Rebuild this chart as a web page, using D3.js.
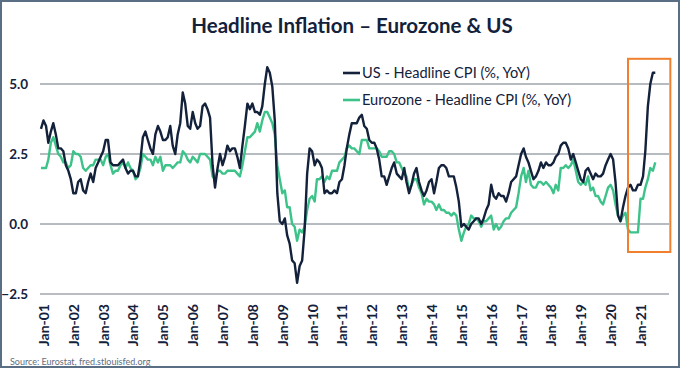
<!DOCTYPE html>
<html>
<head>
<meta charset="utf-8">
<script src="https://cdn.jsdelivr.net/npm/d3@7/dist/d3.min.js"></script>
<style>
  html, body { margin: 0; padding: 0; background: #fff; }
  svg { display: block; font-family: Lato, "Open Sans", sans-serif; }
</style>
</head>
<body>
<svg id="chart" width="680" height="368"></svg>
<script>
// monthly, Dec 2000 .. Jul 2021
const firstMonth = [2000, 11];

const usCpi = [
  3.4,
  3.7, 3.5, 2.9, 3.3, 3.6, 3.2, 2.7, 2.7, 2.6, 2.1, 1.9, 1.6,
  1.1, 1.1, 1.5, 1.6, 1.2, 1.1, 1.5, 1.8, 1.5, 2.0, 2.2, 2.4,
  2.6, 3.0, 3.0, 2.2, 2.1, 2.1, 2.1, 2.2, 2.3, 2.0, 1.8, 1.9,
  1.9, 1.7, 1.7, 2.3, 3.1, 3.3, 3.0, 2.7, 2.5, 3.2, 3.5, 3.3,
  3.0, 3.0, 3.1, 3.5, 2.8, 2.5, 3.2, 3.6, 4.7, 4.3, 3.5, 3.4,
  4.0, 3.6, 3.4, 3.5, 4.2, 4.3, 4.1, 3.8, 2.1, 1.3, 2.0, 2.5,
  2.1, 2.4, 2.8, 2.6, 2.7, 2.7, 2.4, 2.0, 2.8, 3.5, 4.3, 4.1,
  4.3, 4.0, 4.0, 3.9, 4.2, 5.0, 5.6, 5.4, 4.9, 3.7, 1.1, 0.1,
  0.0, 0.2, -0.4, -0.7, -1.3, -1.4, -2.1, -1.5, -1.3, -0.2, 1.8, 2.7,
  2.6, 2.1, 2.3, 2.2, 2.0, 1.1, 1.2, 1.1, 1.1, 1.2, 1.1, 1.5,
  1.6, 2.1, 2.7, 3.2, 3.6, 3.6, 3.6, 3.8, 3.9, 3.5, 3.4, 3.0,
  2.9, 2.9, 2.7, 2.3, 1.7, 1.7, 1.4, 1.7, 2.0, 2.2, 1.8, 1.7,
  1.6, 2.0, 1.5, 1.1, 1.4, 1.8, 2.0, 1.5, 1.2, 1.0, 1.2, 1.5,
  1.6, 1.1, 1.5, 2.0, 2.1, 2.1, 2.0, 1.7, 1.7, 1.7, 1.3, 0.8,
  -0.1, 0.0, -0.1, -0.2, 0.0, 0.1, 0.2, 0.2, 0.0, 0.2, 0.5, 0.7,
  1.4, 1.0, 0.9, 1.1, 1.0, 1.0, 0.8, 1.1, 1.5, 1.6, 1.7, 2.1,
  2.5, 2.7, 2.4, 2.2, 1.9, 1.6, 1.7, 1.9, 2.2, 2.0, 2.2, 2.1,
  2.1, 2.2, 2.4, 2.5, 2.8, 2.9, 2.9, 2.7, 2.3, 2.5, 2.2, 1.9,
  1.6, 1.5, 1.9, 2.0, 1.8, 1.6, 1.8, 1.7, 1.7, 1.8, 2.1, 2.3,
  2.5, 2.3, 1.5, 0.3, 0.1, 0.6, 1.0, 1.3, 1.4, 1.2, 1.2, 1.4,
  1.4, 1.7, 2.6, 4.2, 5.0, 5.4, 5.4
];

const ezCpi = [
  2.0,
  2.0, 2.0, 2.3, 2.9, 3.1, 2.8, 2.5, 2.4, 2.2, 2.2, 2.0, 2.1,
  2.6, 2.5, 2.5, 2.4, 2.0, 1.9, 2.0, 2.1, 2.1, 2.3, 2.3, 2.3,
  2.1, 2.4, 2.5, 2.1, 1.8, 1.9, 1.9, 2.1, 2.2, 2.0, 2.2, 2.0,
  1.9, 1.6, 1.7, 2.0, 2.5, 2.4, 2.3, 2.3, 2.1, 2.4, 2.2, 2.4,
  1.9, 2.1, 2.1, 2.1, 2.0, 2.1, 2.2, 2.2, 2.6, 2.5, 2.3, 2.2,
  2.4, 2.3, 2.2, 2.5, 2.5, 2.5, 2.4, 2.3, 1.7, 1.6, 1.9, 1.9,
  1.8, 1.8, 1.9, 1.9, 1.9, 1.9, 1.8, 1.7, 2.1, 2.6, 3.1, 3.1,
  3.2, 3.3, 3.6, 3.3, 3.7, 4.0, 4.0, 3.8, 3.6, 3.2, 2.1, 1.6,
  1.1, 1.2, 0.6, 0.6, 0.0, -0.1, -0.6, -0.2, -0.3, -0.1, 0.5, 0.9,
  1.0, 0.8, 1.6, 1.6, 1.7, 1.5, 1.7, 1.6, 1.9, 1.9, 1.9, 2.2,
  2.3, 2.4, 2.7, 2.8, 2.7, 2.7, 2.6, 2.5, 3.0, 3.0, 3.0, 2.7,
  2.7, 2.7, 2.7, 2.6, 2.4, 2.4, 2.4, 2.6, 2.6, 2.5, 2.2, 2.2,
  2.0, 1.8, 1.7, 1.2, 1.4, 1.6, 1.6, 1.3, 1.1, 0.7, 0.9, 0.8,
  0.8, 0.7, 0.5, 0.7, 0.5, 0.5, 0.4, 0.4, 0.3, 0.4, 0.3, -0.2,
  -0.6, -0.3, -0.1, 0.0, 0.3, 0.2, 0.2, 0.1, -0.1, 0.1, 0.1, 0.2,
  0.3, -0.2, 0.0, -0.2, -0.1, 0.1, 0.2, 0.2, 0.4, 0.5, 0.6, 1.1,
  1.7, 2.0, 1.5, 1.9, 1.4, 1.3, 1.3, 1.5, 1.5, 1.4, 1.5, 1.4,
  1.3, 1.1, 1.4, 1.2, 2.0, 2.0, 2.1, 2.0, 2.1, 2.3, 1.9, 1.5,
  1.4, 1.5, 1.4, 1.7, 1.2, 1.3, 1.0, 1.0, 0.8, 0.7, 1.0, 1.3,
  1.4, 1.2, 0.7, 0.3, 0.1, 0.3, 0.4, -0.2, -0.3, -0.3, -0.3, -0.3,
  0.9, 0.9, 1.3, 1.6, 2.0, 1.9, 2.2
];

const yTicks = [-2.5, 0, 2.5, 5];
const seriesNames = ['US - Headline CPI (%, YoY)', 'Eurozone - Headline CPI (%, YoY)'];
// highlighted window: start/end month, top/bottom value
const highlightDates = [[2020, 7], [2022, 0]];
const highlightValues = [5.9, -1.0];

const navy = '#13213b';
const green = '#3dc389';

const svg = d3.select('#chart');

// frame
svg.append('rect')
  .attr('x', 1).attr('y', 1)
  .attr('width', 678).attr('height', 366)
  .attr('fill', 'none')
  .attr('stroke', '#5b6f84')
  .attr('stroke-width', 2);

const x = d3.scaleTime()
  .domain([new Date(2001, 0, 1), new Date(2021, 0, 1)])
  .range([43.5, 640.5]);
const y = d3.scaleLinear()
  .domain([-2.5, 5])
  .range([294, 84]);

const dates = usCpi.map((d, i) => new Date(firstMonth[0], firstMonth[1] + i, 1));

// grid
svg.append('g')
  .selectAll('line')
  .data(yTicks)
  .join('line')
  .attr('x1', 40).attr('x2', 669)
  .attr('y1', d => y(d)).attr('y2', d => y(d))
  .attr('stroke', d => d === -2.5 ? '#b9bdc2' : '#6f7883')
  .attr('stroke-width', d => d === -2.5 ? 2 : 1);

// y axis labels
const yAxis = svg.append('g')
  .attr('transform', 'translate(40,0)')
  .call(d3.axisLeft(y).tickValues(yTicks).tickFormat(d3.format('.1f')).tickSize(0).tickPadding(12));
yAxis.select('.domain').remove();
yAxis.selectAll('text')
  .attr('fill', navy)
  .attr('font-size', 13.5)
  .attr('font-weight', 700)
  .attr('font-family', 'Lato, sans-serif');

// x axis labels
const xAxis = svg.append('g')
  .attr('transform', 'translate(0,304)')
  .call(d3.axisBottom(x).ticks(d3.timeYear.every(1)).tickFormat(d3.timeFormat('Jan-%y')).tickSize(0).tickPadding(0));
xAxis.select('.domain').remove();
xAxis.selectAll('text')
  .attr('fill', navy)
  .attr('font-size', 14)
  .attr('font-weight', 700)
  .attr('font-family', 'Lato, sans-serif')
  .attr('text-anchor', 'end')
  .attr('transform', 'rotate(-90)')
  .attr('x', 0)
  .attr('y', 0)
  .attr('dy', '0.35em');

// lines
const line = d3.line()
  .x((d, i) => x(dates[i]))
  .y(d => y(d));

svg.append('path')
  .datum(ezCpi)
  .attr('fill', 'none')
  .attr('stroke', green)
  .attr('stroke-width', 2.4)
  .attr('stroke-linejoin', 'round')
  .attr('d', line);

svg.append('path')
  .datum(usCpi)
  .attr('fill', 'none')
  .attr('stroke', navy)
  .attr('stroke-width', 2.4)
  .attr('stroke-linejoin', 'round')
  .attr('d', line);

// highlight box
const hx0 = x(new Date(highlightDates[0][0], highlightDates[0][1], 1));
const hx1 = x(new Date(highlightDates[1][0], highlightDates[1][1], 1));
svg.append('rect')
  .attr('x', hx0)
  .attr('y', y(highlightValues[0]))
  .attr('width', hx1 - hx0)
  .attr('height', y(highlightValues[1]) - y(highlightValues[0]))
  .attr('fill', 'none')
  .attr('stroke', '#f0802e')
  .attr('stroke-width', 2);

// legend
const legend = svg.append('g').attr('transform', 'translate(343,73)');
legend.selectAll('g')
  .data(seriesNames)
  .join('g')
  .attr('transform', (d, i) => `translate(0,${i * 27})`)
  .each(function(d, i) {
    const g = d3.select(this);
    g.append('line')
      .attr('x1', 0).attr('x2', 17)
      .attr('stroke', i === 0 ? navy : green)
      .attr('stroke-width', 2.6);
    g.append('text')
      .attr('x', 19)
      .attr('dy', '0.35em')
      .attr('fill', navy)
      .attr('font-size', 14.6)
      .text(d);
  });

// title
svg.append('text')
  .attr('x', 352)
  .attr('y', 33)
  .attr('text-anchor', 'middle')
  .attr('fill', navy)
  .attr('font-size', 20.5)
  .attr('font-weight', 700)
  .text('Headline Inflation – Eurozone & US');

// source
svg.append('text')
  .attr('x', 10)
  .attr('y', 365)
  .attr('fill', '#5f6e7e')
  .attr('font-size', 9)
  .text('Source: Eurostat, fred.stlouisfed.org');
</script>
</body>
</html>
